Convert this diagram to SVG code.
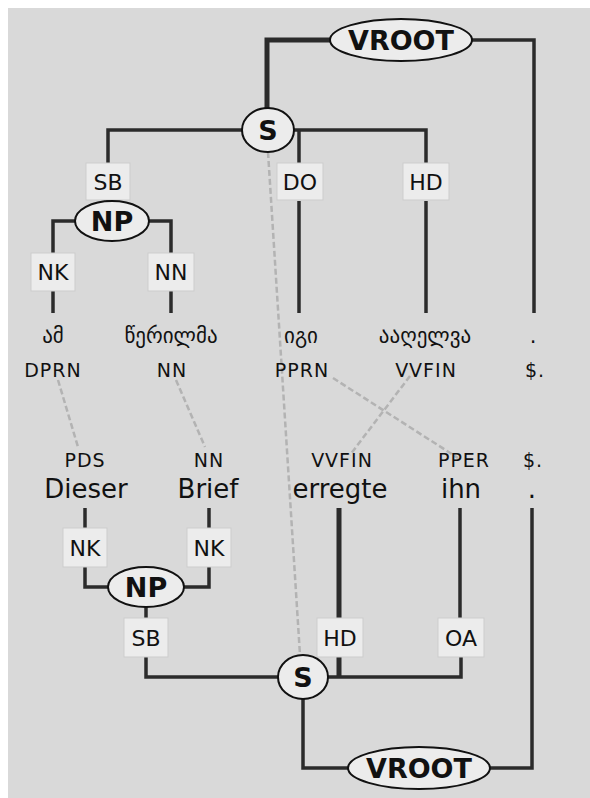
<svg xmlns="http://www.w3.org/2000/svg" width="590" height="798" viewBox="0 0 590 798">
  <style>
    .bg { fill: #d9d9d9; }
    .edge { stroke: #2b2b2b; stroke-width: 3.5; fill: none; }
    .head { stroke-width: 5; }
    .align { stroke: #b3b3b3; stroke-width: 2.5; stroke-dasharray: 6 3; fill: none; }
    .lab { fill: #ececec; stroke: #cdcdcd; stroke-width: 1; }
    .cat { fill: #ececec; stroke: #111; stroke-width: 2; }
    text { font-family: "DejaVu Sans", "Noto Sans", sans-serif; fill: #111; text-anchor: middle; }
    .lt { font-size: 22px; }
    .ct { font-size: 27px; font-weight: bold; }
    .tag { font-size: 19px; letter-spacing: 1px; }
    .word { font-size: 26px; }
    .geo { font-size: 21px; }
  </style>

  <rect class="bg" x="8" y="8" width="582" height="790"/>

  <!-- alignment links between the two sentences -->
  <g id="alignments">
    <path class="align" d="M268,152 L300,655"/>
    <path class="align" d="M58,380 L78,447"/>
    <path class="align" d="M176,380 L205,447"/>
    <path class="align" d="M333,378 L458,458"/>
    <path class="align" d="M410,376 L350,455"/>
  </g>

  <!-- tree edges -->
  <g id="connectors">
    <!-- upper tree -->
    <path class="edge head" d="M267,110 V40 H330"/>
    <path class="edge" d="M472,40 H534 V313"/>
    <path class="edge" d="M242,130 H108 V163"/>
    <path class="edge" d="M294,130 H426 V163"/>
    <path class="edge" d="M299,130 V163"/>
    <path class="edge" d="M108,199 V203"/>
    <path class="edge" d="M75,221 H53 V253"/>
    <path class="edge" d="M149,221 H171 V253"/>
    <path class="edge" d="M53,291 V313"/>
    <path class="edge" d="M171,291 V313"/>
    <path class="edge" d="M299,201 V313"/>
    <path class="edge" d="M426,201 V313"/>
    <!-- lower tree -->
    <path class="edge" d="M85,508 V528"/>
    <path class="edge" d="M209,508 V528"/>
    <path class="edge head" d="M339,508 V677"/>
    <path class="edge" d="M460,508 V618"/>
    <path class="edge" d="M532,508 V768 H489"/>
    <path class="edge" d="M85,567 V587 H108"/>
    <path class="edge" d="M209,567 V587 H184"/>
    <path class="edge" d="M146,606 V618"/>
    <path class="edge" d="M146,657 V677 H278"/>
    <path class="edge" d="M328,677 H461 V657"/>
    <path class="edge" d="M303,699 V768 H348"/>
  </g>

  <!-- upper tree nodes -->
  <g id="vroot1"><ellipse class="cat" cx="401" cy="40" rx="71" ry="21"/><text class="ct" x="401" y="50">VROOT</text></g>
  <g id="s1"><ellipse class="cat" cx="268" cy="130" rx="26" ry="22"/><text class="ct" x="268" y="140">S</text></g>
  <g id="sb1"><rect class="lab" x="86" y="163" width="44" height="37"/><text class="lt" x="108" y="190">SB</text></g>
  <g id="do1"><rect class="lab" x="277" y="163" width="46" height="37"/><text class="lt" x="300" y="190">DO</text></g>
  <g id="hd1"><rect class="lab" x="403" y="163" width="46" height="37"/><text class="lt" x="426" y="190">HD</text></g>
  <g id="np1"><ellipse class="cat" cx="112" cy="221" rx="37" ry="20"/><text class="ct" x="112" y="231">NP</text></g>
  <g id="nk1"><rect class="lab" x="31" y="253" width="44" height="38"/><text class="lt" x="53" y="280">NK</text></g>
  <g id="nn1"><rect class="lab" x="148" y="253" width="46" height="38"/><text class="lt" x="171" y="280">NN</text></g>

  <!-- upper tokens -->
  <g id="tok-am"><text class="geo" x="53" y="343">ამ</text><text class="tag" x="53" y="377">DPRN</text></g>
  <g id="tok-werilma"><text class="geo" x="171" y="343">წერილმა</text><text class="tag" x="172" y="377">NN</text></g>
  <g id="tok-igi"><text class="geo" x="301" y="343">იგი</text><text class="tag" x="302" y="377">PPRN</text></g>
  <g id="tok-aaghelva"><text class="geo" x="425" y="343">ააღელვა</text><text class="tag" x="426" y="377">VVFIN</text></g>
  <g id="tok-dot1"><text class="geo" x="533" y="343">.</text><text class="tag" x="535" y="377">$.</text></g>

  <!-- lower tokens -->
  <g id="tok-dieser"><text class="tag" x="85" y="467">PDS</text><text class="word" x="86" y="498">Dieser</text></g>
  <g id="tok-brief"><text class="tag" x="209" y="467">NN</text><text class="word" x="208" y="498">Brief</text></g>
  <g id="tok-erregte"><text class="tag" x="342" y="467">VVFIN</text><text class="word" x="340" y="498">erregte</text></g>
  <g id="tok-ihn"><text class="tag" x="464" y="467">PPER</text><text class="word" x="461" y="498">ihn</text></g>
  <g id="tok-dot2"><text class="tag" x="533" y="467">$.</text><text class="word" x="532" y="498">.</text></g>

  <!-- lower tree nodes -->
  <g id="nk2"><rect class="lab" x="63" y="528" width="44" height="39"/><text class="lt" x="85" y="556">NK</text></g>
  <g id="nk3"><rect class="lab" x="187" y="528" width="44" height="39"/><text class="lt" x="209" y="556">NK</text></g>
  <g id="np2"><ellipse class="cat" cx="146" cy="587" rx="38" ry="20"/><text class="ct" x="146" y="597">NP</text></g>
  <g id="sb2"><rect class="lab" x="124" y="618" width="44" height="39"/><text class="lt" x="146" y="646">SB</text></g>
  <g id="hd2"><rect class="lab" x="317" y="618" width="46" height="39"/><text class="lt" x="340" y="646">HD</text></g>
  <g id="oa2"><rect class="lab" x="438" y="618" width="46" height="39"/><text class="lt" x="461" y="646">OA</text></g>
  <g id="s2"><ellipse class="cat" cx="303" cy="677" rx="25" ry="22"/><text class="ct" x="303" y="687">S</text></g>
  <g id="vroot2"><ellipse class="cat" cx="419" cy="768" rx="71" ry="21"/><text class="ct" x="419" y="778">VROOT</text></g>
</svg>
